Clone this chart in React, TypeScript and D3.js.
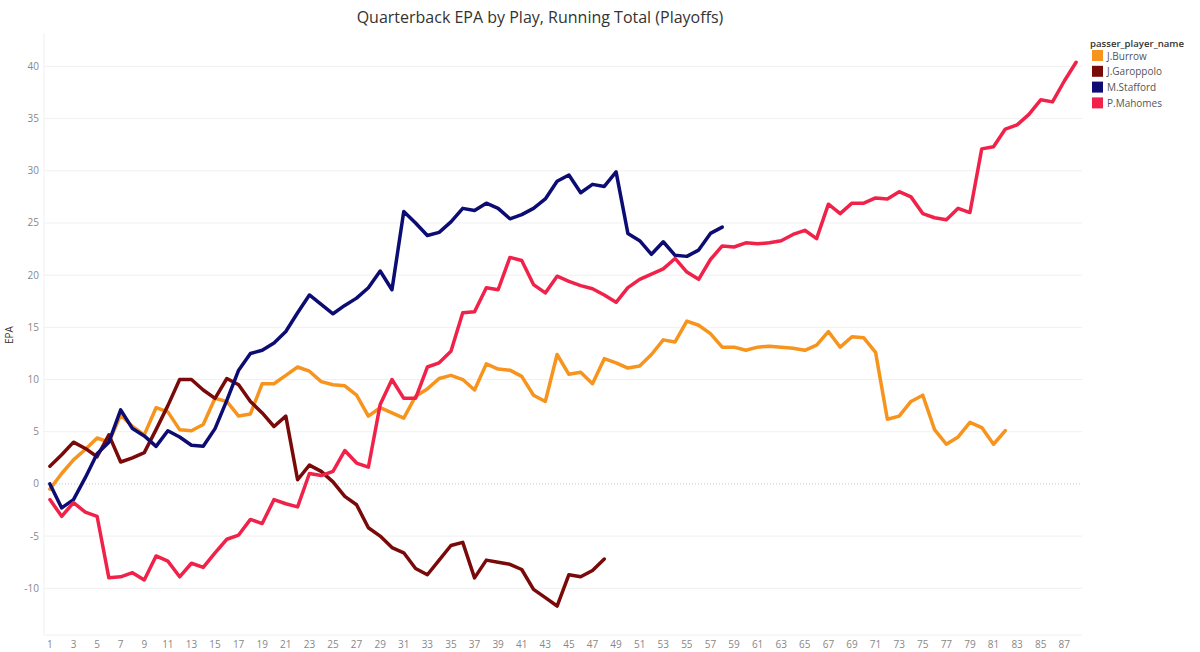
import React from "react";
import * as d3 from "d3";

const plays = d3.range(1, 89);
const xTicks = d3.range(1, 88, 2);
const yTicks = [-10, -5, 0, 5, 10, 15, 20, 25, 30, 35, 40];

const players = ["J.Burrow", "J.Garoppolo", "M.Stafford", "P.Mahomes"];
const colors = ["#F7941D", "#7A0A0A", "#0C0C73", "#F0224A"];

const burrow = [
  -0.5, 1.0, 2.3, 3.3, 4.4, 4.0, 6.6, 5.5, 4.7, 7.3, 6.9, 5.2, 5.1, 5.7, 8.2, 7.9, 6.5, 6.7, 9.6, 9.6,
  10.4, 11.2, 10.8, 9.8, 9.5, 9.4, 8.5, 6.5, 7.3, 6.8, 6.3, 8.4, 9.1, 10.1, 10.4, 10.0, 9.0, 11.5, 11.0, 10.9,
  10.3, 8.5, 7.9, 12.4, 10.5, 10.7, 9.6, 12.0, 11.6, 11.1, 11.3, 12.4, 13.8, 13.6, 15.6, 15.2, 14.4, 13.1, 13.1, 12.8,
  13.1, 13.2, 13.1, 13.0, 12.8, 13.3, 14.6, 13.1, 14.1, 14.0, 12.6, 6.2, 6.5, 7.9, 8.5, 5.2, 3.8, 4.5, 5.9, 5.4,
  3.8, 5.1,
];
const garoppolo = [
  1.7, 2.8, 4.0, 3.4, 2.6, 4.7, 2.1, 2.5, 3.0, 5.2, 7.5, 10.0, 10.0, 9.0, 8.2, 10.1, 9.5, 7.9, 6.8, 5.5,
  6.5, 0.4, 1.8, 1.2, 0.2, -1.2, -2.0, -4.2, -5.0, -6.1, -6.6, -8.1, -8.7, -7.3, -5.9, -5.6, -9.0, -7.3, -7.5, -7.7,
  -8.2, -10.1, -10.9, -11.7, -8.7, -8.9, -8.3, -7.2,
];
const stafford = [
  0.0, -2.3, -1.5, 0.6, 2.9, 4.0, 7.1, 5.3, 4.6, 3.6, 5.1, 4.5, 3.7, 3.6, 5.3, 8.0, 10.9, 12.5, 12.8, 13.5,
  14.6, 16.4, 18.1, 17.2, 16.3, 17.1, 17.8, 18.8, 20.4, 18.6, 26.1, 25.0, 23.8, 24.1, 25.1, 26.4, 26.2, 26.9, 26.4, 25.4,
  25.8, 26.4, 27.3, 29.0, 29.6, 27.9, 28.7, 28.5, 29.9, 24.0, 23.3, 22.0, 23.2, 21.9, 21.8, 22.4, 24.0, 24.6,
];
const mahomes = [
  -1.5, -3.1, -1.8, -2.7, -3.1, -9.0, -8.9, -8.5, -9.2, -6.9, -7.4, -8.9, -7.6, -8.0, -6.6, -5.3, -4.9, -3.4, -3.8, -1.5,
  -1.9, -2.2, 1.0, 0.8, 1.2, 3.2, 2.0, 1.6, 7.6, 10.0, 8.2, 8.2, 11.2, 11.6, 12.7, 16.4, 16.5, 18.8, 18.6, 21.7,
  21.4, 19.1, 18.3, 19.9, 19.4, 19.0, 18.7, 18.1, 17.4, 18.8, 19.6, 20.1, 20.6, 21.6, 20.3, 19.6, 21.5, 22.8, 22.7, 23.1,
  23.0, 23.1, 23.3, 23.9, 24.3, 23.5, 26.8, 25.9, 26.9, 26.9, 27.4, 27.3, 28.0, 27.5, 25.9, 25.5, 25.3, 26.4, 26.0, 32.1,
  32.3, 34.0, 34.4, 35.4, 36.8, 36.6, 38.6, 40.4,
];

const series = [burrow, garoppolo, stafford, mahomes];

const W = 1200;
const H = 652;
const plotLeft = 44;
const plotRight = 1082;
const plotTop = 33;
const plotBottom = 635;

export default function App() {
  const x = d3.scaleLinear().domain([0.5, 88.5]).range([plotLeft, plotRight]);
  const y = d3.scaleLinear().domain([-10, 40]).range([588.3, 66.4]);
  const line = d3
    .line<number>()
    .x((_, i) => x(plays[i]))
    .y((d) => y(d));
  const font = "'Open Sans', 'Liberation Sans', sans-serif";

  return (
    <div style={{ position: "fixed", left: 0, top: 0, width: W, height: H, background: "#fff" }}>
      <svg width={W} height={H} style={{ display: "block", fontFamily: font }}>
        <text x={540} y={23} textAnchor="middle" fontSize={16} fill="#333">
          Quarterback EPA by Play, Running Total (Playoffs)
        </text>
        {/* gridlines */}
        {yTicks
          .filter((t) => t !== 0)
          .map((t) => (
            <line key={t} x1={plotLeft} x2={plotRight} y1={y(t)} y2={y(t)} stroke="#f0f0f0" strokeWidth={1} />
          ))}
        <line x1={plotLeft} x2={plotRight} y1={y(0)} y2={y(0)} stroke="#c8c8c8" strokeWidth={1} strokeDasharray="1,2" />
        <line x1={plotLeft} x2={plotLeft} y1={plotTop} y2={plotBottom} stroke="#f0f0f0" strokeWidth={1} />
        <line x1={plotLeft} x2={plotRight} y1={plotBottom} y2={plotBottom} stroke="#f0f0f0" strokeWidth={1} />
        {/* y tick labels */}
        {yTicks.map((t) => (
          <text key={t} x={39} y={y(t) + 3.5} textAnchor="end" fontSize={10} fill="#888">
            {t}
          </text>
        ))}
        <text transform={`translate(13,${335}) rotate(-90)`} textAnchor="middle" fontSize={10} fill="#333">
          EPA
        </text>
        {/* x tick labels */}
        {xTicks.map((t) => (
          <text key={t} x={x(t)} y={648} textAnchor="middle" fontSize={10} fill="#888">
            {t}
          </text>
        ))}
        {/* lines */}
        {series.map((s, i) => (
          <path
            key={players[i]}
            d={line(s) || ""}
            fill="none"
            stroke={colors[i]}
            strokeWidth={3.5}
            strokeLinejoin="round"
            strokeLinecap="round"
          />
        ))}
        {/* legend */}
        <text x={1090} y={47} fontSize={9.6} fontWeight={600} fill="#333">
          passer_player_name
        </text>
        {players.map((p, i) => (
          <g key={p} transform={`translate(1092,${50 + i * 15.8})`}>
            <rect x={0} y={0} width={11} height={11} fill={colors[i]} />
            <text x={15} y={9.5} fontSize={10} fill="#555">
              {p}
            </text>
          </g>
        ))}
      </svg>
    </div>
  );
}
